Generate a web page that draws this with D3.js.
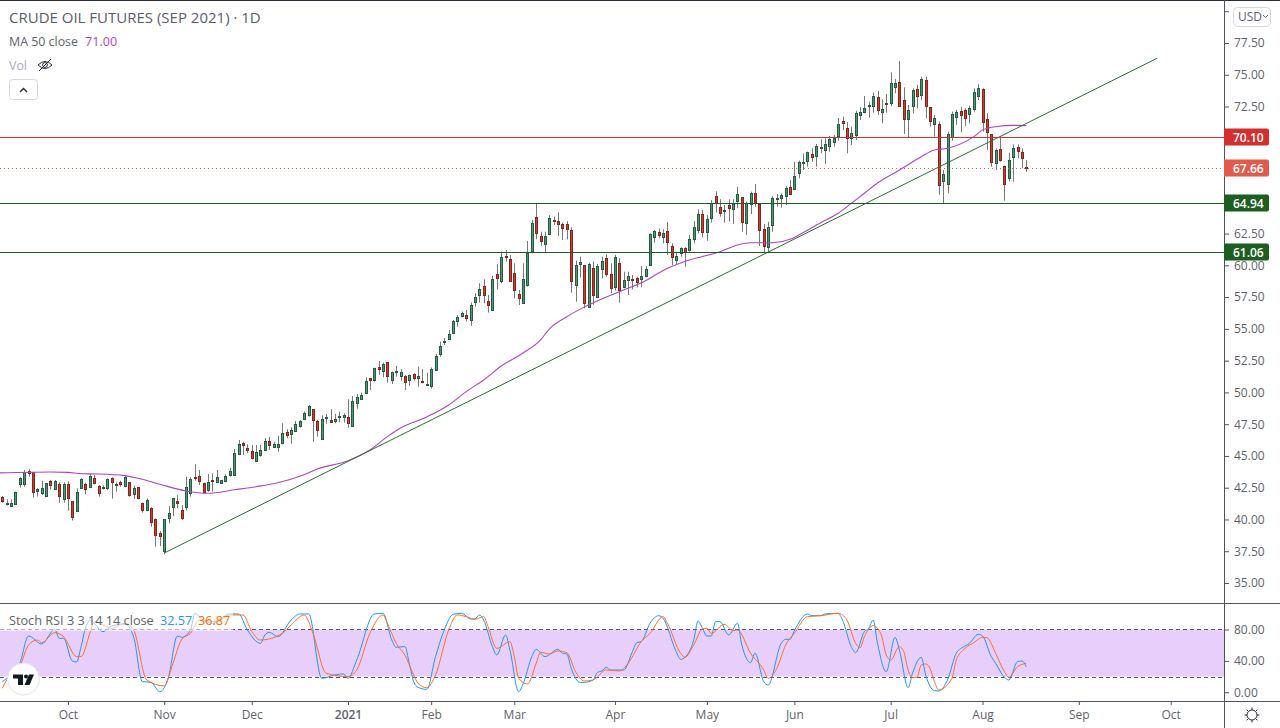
<!DOCTYPE html>
<html>
<head>
<meta charset="utf-8">
<script src="https://cdnjs.cloudflare.com/ajax/libs/d3/7.8.5/d3.min.js"></script>
<style>
  body { margin: 0; background: #fff; }
  svg { display: block; font-family: "Open Sans", sans-serif; }
</style>
</head>
<body>
<svg id="chart" width="1280" height="728"></svg>
<script>
// OHLC per trading day
const opens = [
  41.74,41.25,41.01,41.19,42.74,42.74,43.79,43.71,42.19,42.03,
  41.80,43.00,42.42,42.77,41.56,42.77,41.43,40.62,42.42,42.82,
  42.53,43.24,42.61,42.48,42.48,43.24,42.82,42.95,42.66,42.92,
  41.95,42.53,41.27,40.72,40.88,40.01,38.91,37.47,40.06,40.93,
  41.45,40.72,40.93,42.03,43.32,43.40,42.85,42.27,43.08,42.90,
  42.82,42.98,43.45,43.45,45.13,45.99,45.60,45.36,44.60,45.10,
  45.47,46.18,45.73,45.73,45.97,46.86,46.68,46.91,47.30,47.86,
  48.17,48.67,47.73,46.36,47.93,47.83,47.80,48.09,48.04,48.04,
  47.33,49.11,49.46,49.93,51.11,50.92,52.00,51.66,52.37,50.92,
  51.61,51.32,51.32,50.92,51.42,51.16,50.87,50.61,50.45,51.71,
  53.05,54.00,54.20,54.68,55.62,55.96,56.09,55.65,57.14,57.67,
  58.38,57.17,56.51,59.32,58.80,60.74,60.47,59.37,57.75,57.07,
  58.48,61.16,63.78,62.31,61.68,62.42,63.54,63.47,63.26,63.23,
  62.76,58.48,60.13,60.00,56.70,59.77,57.48,59.71,60.58,59.32,
  58.27,60.16,58.32,58.80,58.93,58.98,58.87,59.11,60.03,62.18,
  62.60,62.26,62.68,61.50,60.45,60.95,61.34,61.16,62.08,62.78,
  64.02,62.57,63.68,65.43,64.57,64.31,64.73,64.49,65.01,65.35,
  63.28,64.80,65.67,64.83,62.84,61.39,63.18,65.17,65.25,65.41,
  66.14,65.96,67.22,68.08,68.16,68.76,68.55,69.24,69.08,69.34,
  69.66,70.13,71.36,70.78,69.97,70.20,71.86,72.02,72.49,72.57,
  73.22,72.02,72.73,72.73,73.98,74.41,72.99,71.47,72.49,73.88,
  73.43,74.59,72.44,71.15,71.10,66.59,66.40,70.10,71.62,72.15,
  72.23,71.89,72.33,73.36,73.85,71.49,70.31,68.00,69.13,67.85,
  66.82,68.48,69.34,68.90,67.74
];
const highs = [
  41.85,41.59,41.59,42.19,43.32,43.89,43.95,43.76,42.45,43.03,
  42.87,43.11,43.11,42.92,42.92,43.00,41.45,42.45,43.24,42.90,
  43.58,43.50,42.71,42.69,43.24,43.32,42.90,43.05,43.45,42.95,
  42.66,42.53,41.32,41.66,40.96,40.09,39.09,40.04,41.06,41.66,
  41.93,41.14,43.37,43.32,44.37,43.89,42.90,43.58,43.63,43.89,
  43.11,43.55,44.08,45.55,46.26,46.12,45.91,45.86,45.86,45.86,
  46.40,46.50,46.12,46.60,47.57,47.10,47.25,47.75,47.83,48.49,
  49.01,48.67,47.83,48.20,48.30,48.69,48.30,48.49,48.35,49.46,
  49.72,49.88,49.98,51.19,51.11,51.95,52.47,52.34,52.39,51.63,
  52.08,51.82,51.37,51.42,51.50,52.03,51.84,51.55,51.97,53.02,
  53.99,54.28,54.91,55.70,56.09,56.36,56.49,57.07,57.80,58.59,
  58.90,57.67,59.16,60.08,61.08,61.21,60.82,60.16,58.06,60.16,
  61.92,63.57,64.88,62.65,62.65,63.96,63.83,64.17,63.36,63.49,
  62.99,60.37,60.68,60.03,60.21,60.29,60.11,60.68,60.87,60.16,
  60.82,60.55,59.50,59.50,59.24,59.11,59.95,59.95,62.52,62.78,
  62.91,62.84,63.39,61.73,61.08,61.42,61.42,62.39,63.49,64.41,
  64.36,63.96,65.14,65.83,65.20,64.75,65.20,65.20,66.19,65.35,
  65.01,65.80,66.40,64.88,63.26,63.44,65.46,65.62,65.67,66.25,
  66.72,68.16,68.24,68.82,68.95,69.21,69.55,69.92,70.00,70.18,
  70.26,71.60,71.70,71.28,70.91,72.17,72.44,73.33,72.88,73.62,
  73.72,73.07,73.49,75.19,74.67,76.08,74.01,72.62,73.93,74.20,
  74.85,74.85,72.44,71.83,71.31,67.51,70.52,72.10,72.23,72.49,
  72.36,72.57,73.93,74.25,73.93,71.97,70.31,69.21,70.18,67.85,
  68.87,69.53,69.53,69.21,68.29
];
const lows = [
  41.32,41.09,41.01,41.17,42.50,42.58,43.37,41.72,41.80,41.93,
  41.80,42.37,42.40,41.32,41.32,40.69,39.91,40.62,42.40,41.98,
  42.50,42.77,41.80,42.35,42.32,41.64,42.19,42.58,42.53,41.80,
  41.61,41.59,40.54,40.69,39.44,37.86,37.91,37.26,39.70,40.27,
  40.88,39.96,40.69,41.80,43.05,42.71,42.06,42.19,42.19,42.85,
  42.79,42.92,43.37,43.45,45.07,45.07,45.21,44.73,44.55,44.94,
  45.39,45.47,45.68,45.34,45.91,46.39,45.97,46.91,47.23,47.83,
  48.09,46.12,46.52,46.26,47.52,47.62,47.57,47.65,47.62,47.23,
  47.30,48.72,49.40,49.88,50.19,50.85,51.37,51.19,50.77,50.66,
  51.24,50.92,50.19,50.53,50.92,50.45,50.71,50.58,50.30,51.71,
  52.81,53.73,54.13,54.68,55.18,55.91,55.57,55.23,56.75,57.07,
  57.01,56.28,56.51,58.11,58.59,60.29,58.77,57.41,56.88,57.01,
  58.32,60.95,62.05,61.55,61.03,62.39,63.18,62.31,62.00,62.05,
  57.85,57.14,59.03,56.62,56.67,56.88,57.41,58.98,59.11,57.80,
  58.01,57.07,58.19,57.67,58.11,58.27,58.27,59.06,59.95,61.79,
  62.13,61.73,60.82,60.03,60.03,60.68,59.90,61.08,61.73,62.52,
  62.21,61.94,63.36,64.15,63.83,63.36,63.44,63.26,64.49,62.65,
  62.39,64.04,64.62,61.52,61.03,61.03,62.65,64.62,64.54,64.75,
  65.54,65.93,66.85,67.51,67.77,68.16,67.77,68.82,67.98,68.95,
  69.34,69.81,70.65,68.82,69.47,69.87,71.44,71.96,71.62,72.02,
  71.83,71.18,72.02,72.54,73.54,72.49,70.34,70.08,71.96,72.36,
  73.01,71.57,70.92,70.13,65.54,64.88,65.67,69.82,71.05,70.47,
  70.97,71.18,72.10,73.01,70.52,69.08,67.77,67.51,68.16,65.09,
  66.59,66.59,68.42,67.64,67.37
];
const closes = [
  41.40,41.30,41.27,42.14,43.24,43.71,43.60,42.11,42.37,42.45,
  42.85,42.66,43.03,41.80,42.77,41.64,40.14,42.14,43.16,42.42,
  43.42,42.82,42.03,42.58,43.16,42.90,42.74,42.82,43.34,41.87,
  42.45,41.64,40.69,41.51,39.75,38.73,38.70,40.01,40.48,41.66,
  41.32,40.06,42.53,43.16,43.24,42.98,42.11,42.92,42.98,43.32,
  43.08,43.40,43.79,45.21,45.94,45.81,45.47,44.79,45.28,45.47,
  46.18,45.89,45.94,45.94,46.78,46.60,47.02,47.49,47.73,48.35,
  48.90,47.78,46.99,47.93,48.04,47.65,47.93,48.14,48.20,47.57,
  49.30,49.61,49.77,50.87,50.92,51.89,51.87,52.21,51.24,51.58,
  51.69,51.63,50.85,51.34,51.08,51.29,50.77,50.66,51.82,52.84,
  53.65,54.05,54.60,55.62,55.94,56.23,55.86,56.85,57.54,58.14,
  57.69,56.88,58.93,59.01,60.66,60.66,58.77,58.06,57.43,58.93,
  61.00,63.33,62.52,61.94,62.31,63.70,63.44,63.26,62.94,62.81,
  58.72,60.03,60.27,56.99,60.08,57.62,59.95,60.34,59.35,58.19,
  60.66,58.01,58.85,59.14,58.85,58.64,59.14,59.69,62.44,62.68,
  62.34,62.55,61.79,60.61,60.74,61.34,61.05,62.05,62.99,64.02,
  62.57,63.62,64.88,64.86,64.07,64.36,64.46,64.86,65.59,63.36,
  64.88,65.67,64.93,62.81,61.47,62.99,65.28,65.28,65.51,66.06,
  65.56,67.01,68.11,68.14,68.90,68.55,69.37,69.32,69.53,69.92,
  70.00,71.10,71.23,70.00,70.39,71.97,72.07,72.36,72.59,73.33,
  72.18,72.28,72.78,74.33,74.33,72.49,71.47,72.20,73.78,73.36,
  74.67,72.57,71.31,71.60,66.27,67.17,70.31,71.91,72.04,71.86,
  71.62,72.36,73.64,73.96,71.23,70.50,68.11,69.06,68.24,66.43,
  68.27,69.21,69.03,68.40,67.66
];

// MA 50, read at the bends of the line
const maIndex = [-1,11,15,18,22,28,32,36,42,47,53,58,63,68,72,79,84,88,91,97,102,106,110,114,119,123,125,129,133,141,146,152,157,164,168,171,176,180,182,187,191,194,197,200,205,210,213,216,222,224,227,231,234];
const maValues = [43.66,43.74,43.71,43.60,43.58,43.45,43.16,42.77,42.24,42.06,42.34,42.58,42.89,43.40,43.97,44.63,45.47,46.52,47.20,48.07,49.01,50.06,50.98,52.08,53.10,54.13,54.99,55.96,56.72,57.93,58.61,59.77,60.42,61.07,61.60,61.78,61.78,62.05,62.39,63.36,64.10,64.88,65.67,66.48,67.50,68.55,69.08,69.21,70.13,70.65,70.91,71.02,71.00];

// Stoch RSI %K
const kIndex = [0,1,4,6,9,12,13,14,16,17,18,19,20,23,25,28,30,32,34,36,38,40,41,43,44,46,48,52,54,56,59,60,61,63,66,68,70,73,76,78,79,81,85,87,89,90,92,93,94,95,97,99,101,103,105,107,108,109,110,112,113,115,116,118,119,121,122,124,127,128,129,130,132,133,135,136,137,138,139,141,142,144,145,146,148,150,151,154,155,156,158,159,160,161,162,163,164,166,168,169,171,172,174,175,178,179,180,181,184,185,187,188,191,192,194,195,197,198,199,200,202,204,205,207,208,210,211,213,214,216,218,220,221,223,224,226,227,229,230,232,233,234];
const kValues = [13.6,17.8,36.9,71.7,61.6,80.2,68.8,68.8,39.9,38.6,58.2,81.5,92.1,77.3,84.5,87.0,70.9,13.6,12.7,0.8,19.9,71.7,70.0,79.4,100.6,91.3,87.9,99.8,99.8,79.4,62.4,73.0,76.4,70.9,92.1,99.8,99.8,17.8,22.1,23.3,17.8,41.2,99.8,100.6,66.6,57.3,58.2,36.9,13.6,6.4,3.8,45.4,79.4,99.3,100.6,93.4,93.4,98.5,92.1,58.2,47.5,73.0,53.9,0.8,10.6,45.4,54.8,45.4,54.8,49.7,48.8,30.6,12.7,12.7,15.7,25.5,27.2,31.8,28.4,28.4,28.4,51.8,63.3,64.5,87.9,97.6,94.2,51.8,42.0,44.6,66.6,90.9,81.5,71.7,71.7,90.0,90.0,73.0,87.9,60.3,37.8,49.7,13.6,9.3,62.4,67.5,67.5,78.5,99.8,97.6,97.6,99.8,100.6,92.1,58.2,50.5,77.3,81.5,92.1,62.4,26.3,70.0,53.9,5.9,24.2,44.6,22.1,2.1,1.7,15.7,49.7,59.0,62.4,73.9,71.7,45.4,36.9,19.1,15.7,39.0,39.9,32.57];

// Stoch RSI %D
const dIndex = [0,1,4,6,8,9,12,14,17,18,20,21,25,28,30,33,37,39,41,43,45,49,52,55,57,59,64,66,69,71,74,79,81,84,87,88,90,92,94,95,97,99,102,104,106,108,110,111,113,116,117,118,120,122,123,125,127,129,131,133,135,138,141,143,146,148,151,152,155,156,158,160,161,162,165,167,168,171,174,175,177,179,181,184,187,191,193,195,196,197,199,200,201,202,203,205,206,207,208,209,210,211,212,213,214,217,218,220,222,224,225,227,229,230,232,234];
const dValues = [5.1,15.7,32.7,60.3,66.6,63.3,76.0,70.9,45.4,45.4,75.1,90.0,81.5,87.9,79.4,15.7,8.1,36.9,67.5,75.1,92.1,90.0,98.5,98.5,77.3,66.6,75.1,85.8,98.5,75.1,24.2,19.9,28.4,75.1,98.5,87.9,62.4,47.5,22.1,11.5,5.9,22.1,79.4,98.5,96.4,93.0,96.4,83.6,56.0,64.5,45.4,17.8,10.6,36.9,50.9,48.8,52.6,50.5,26.3,14.4,15.7,28.4,27.2,36.9,64.5,75.1,96.4,87.9,49.7,44.6,60.3,80.7,81.5,75.1,86.6,78.5,79.4,49.7,28.4,17.8,30.6,60.3,75.1,96.4,97.6,100.6,92.1,62.4,56.9,70.9,84.9,81.5,70.9,47.5,41.2,58.2,51.8,28.4,18.7,19.1,34.8,36.1,30.6,13.6,3.0,17.8,41.2,56.0,63.3,70.0,69.6,49.7,26.3,19.1,32.7,36.87];

// drawn lines
const trendIndex = [37, 263.9];
const trendPrice = [37.36, 76.3];
const redLevel = 70.10;
const greenLevels = [64.94, 61.06];
const lastClose = 67.66;

// axes
const priceTicks = [80,77.5,75,72.5,70,67.5,65,62.5,60,57.5,55,52.5,50,47.5,45,42.5,40,37.5,35];
const hiddenPriceLabels = [80, 70, 67.5, 65];
const stochTicks = [80, 40, 0];
const monthIndex = [15,37,57,79,98,117,140,161,181,203,224,246,267];
const monthLabels = ["Oct","Nov","Dec","2021","Feb","Mar","Apr","May","Jun","Jul","Aug","Sep","Oct"];

const colors = {
  upFill: "#479a72", upLine: "#265a42",
  downFill: "#d03a2e", downLine: "#84261c",
  wick: "#787878",
  red: "#d32f2f", close: "#e25a4b", green: "#1b5e20", trend: "#2f6b35",
  ma: "#ab47bc", band: "#e8cffb", k: "#2196f3", d: "#ff6d2a",
  axis: "#50535e", text: "#5f626c"
};

const W = 1280, axisX = 1224, paneBottom = 603, timeY = 701;
const svg = d3.select("#chart");

const x = d3.scaleLinear().domain([0, 234]).range([2.3, 1026.3]);
const y = d3.scaleLinear().domain([77.5, 35]).range([43, 583]);
const yStoch = d3.scaleLinear().domain([100, 0]).range([613.8, 692.3]);
const px = (i) => Math.round(x(i)) + 0.5;

svg.append("clipPath").attr("id", "mainClip").append("rect")
  .attr("width", axisX).attr("height", paneBottom);
svg.append("clipPath").attr("id", "stochClip").append("rect")
  .attr("y", paneBottom).attr("width", axisX).attr("height", timeY - paneBottom);

const main = svg.append("g").attr("clip-path", "url(#mainClip)");

// Candles: wick then body
const bars = d3.range(opens.length);
main.selectAll(".wick").data(bars).enter().append("line")
  .attr("class", "wick")
  .attr("x1", px).attr("x2", px)
  .attr("y1", (i) => y(highs[i])).attr("y2", (i) => y(lows[i]))
  .attr("stroke", colors.wick);

main.selectAll(".body").data(bars).enter().append("rect")
  .attr("class", "body")
  .attr("x", (i) => px(i) - 1)
  .attr("width", 2)
  .attr("y", (i) => Math.round(y(Math.max(opens[i], closes[i]))) + 0.5)
  .attr("height", (i) => Math.max(1, Math.round(Math.abs(y(opens[i]) - y(closes[i])))))
  .attr("fill", (i) => (closes[i] >= opens[i] ? colors.upFill : colors.downFill))
  .attr("stroke", (i) => (closes[i] >= opens[i] ? colors.upLine : colors.downLine));

// MA 50
main.append("path")
  .attr("d", d3.line().x((d, k) => x(maIndex[k])).y((d) => y(d)).curve(d3.curveMonotoneX)(maValues))
  .attr("fill", "none")
  .attr("stroke", colors.ma)
  .attr("stroke-width", 1.1);

// Trend line
main.append("line")
  .attr("x1", x(trendIndex[0])).attr("y1", y(trendPrice[0]))
  .attr("x2", x(trendIndex[1])).attr("y2", y(trendPrice[1]))
  .attr("stroke", colors.trend).attr("stroke-width", 1);

// Horizontal levels
const hLevel = (value, color, dash) => {
  const yy = Math.round(y(value)) + 0.5;
  main.append("line")
    .attr("x1", 0).attr("x2", axisX).attr("y1", yy).attr("y2", yy)
    .attr("stroke", color).attr("stroke-dasharray", dash || null);
};
hLevel(redLevel, colors.red);
hLevel(lastClose, colors.close, "1 3");
greenLevels.forEach((v) => hLevel(v, colors.green));

// Stoch pane
const stoch = svg.append("g").attr("clip-path", "url(#stochClip)");
stoch.append("rect")
  .attr("x", 0).attr("width", axisX)
  .attr("y", yStoch(80)).attr("height", yStoch(20) - yStoch(80))
  .attr("fill", colors.band);
[80, 20].forEach((v) => {
  const yy = Math.round(yStoch(v)) + 0.5;
  stoch.append("line")
    .attr("x1", 0).attr("x2", axisX).attr("y1", yy).attr("y2", yy)
    .attr("stroke", "#55585f").attr("stroke-dasharray", "4 3");
});
const stochLine = (idx, vals, color) => {
  stoch.append("path")
    .attr("d", d3.line().x((d, k) => x(idx[k])).y((d) => yStoch(d)).curve(d3.curveMonotoneX)(vals))
    .attr("fill", "none")
    .attr("stroke", color)
    .attr("stroke-width", 1);
};
stochLine(kIndex, kValues, colors.k);
stochLine(dIndex, dValues, colors.d);

// Frame lines
[0.5, paneBottom + 0.5, timeY + 0.5].forEach((yy, k) => {
  svg.append("line")
    .attr("x1", 0).attr("x2", W).attr("y1", yy).attr("y2", yy)
    .attr("stroke", k === 0 ? "#2a2e39" : colors.axis);
});

// Price axis
const styleAxis = (g) => {
  g.select(".domain").attr("stroke", colors.axis);
  g.selectAll(".tick line").attr("stroke", colors.axis);
  g.selectAll(".tick text")
    .attr("fill", colors.text)
    .style("font-family", '"Open Sans", sans-serif')
    .style("font-size", "12px");
};
svg.append("g")
  .attr("transform", `translate(${axisX},0)`)
  .call(d3.axisRight(y).tickValues(priceTicks).tickSize(5).tickPadding(5)
    .tickFormat((d) => (hiddenPriceLabels.includes(d) ? "" : d3.format(".2f")(d))))
  .call(styleAxis)
  .select(".domain").remove();

svg.append("g")
  .attr("transform", `translate(${axisX},0)`)
  .call(d3.axisRight(yStoch).tickValues(stochTicks).tickSize(5).tickPadding(5)
    .tickFormat(d3.format(".2f")))
  .call(styleAxis)
  .select(".domain").remove();

svg.append("line")
  .attr("x1", axisX + 0.5).attr("x2", axisX + 0.5).attr("y1", 0).attr("y2", 728)
  .attr("stroke", colors.axis);

// Time axis
const timeAxis = svg.append("g")
  .attr("transform", `translate(0,${timeY})`)
  .call(d3.axisBottom(x).tickValues(monthIndex).tickSize(4).tickPadding(5)
    .tickFormat((d, k) => monthLabels[k]))
  .call(styleAxis);
timeAxis.select(".domain").remove();
timeAxis.selectAll(".tick text")
  .filter((d, k) => monthLabels[k] === "2021")
  .style("font-weight", 600);

// Price labels on the axis
const priceLabel = (value, color) => {
  const yy = Math.round(y(value));
  const g = svg.append("g");
  g.append("path")
    .attr("d", `M${axisX},${yy - 8.5}h43a2,2 0 0 1 2,2v13a2,2 0 0 1 -2,2h-43z`)
    .attr("fill", color);
  g.append("text")
    .attr("x", axisX + 9).attr("y", yy + 4.5)
    .attr("fill", "#fff")
    .style("font-size", "12px").style("font-weight", 600)
    .text(d3.format(".2f")(value));
};
priceLabel(redLevel, colors.red);
priceLabel(lastClose, colors.close);
greenLevels.forEach((v) => priceLabel(v, colors.green));

// Currency button
svg.append("rect")
  .attr("x", 1233.5).attr("y", 7.5).attr("width", 37).attr("height", 19).attr("rx", 4)
  .attr("fill", "#fff").attr("stroke", "#d6d8e0");
svg.append("text").attr("x", 1238).attr("y", 21)
  .attr("fill", colors.text).style("font-size", "12px").text("USD");
svg.append("path").attr("d", "M1263,15l2.5,2.5l2.5,-2.5")
  .attr("fill", "none").attr("stroke", colors.text);

// Legends, top pane
const legendText = (xx, yy, text, color, size) =>
  svg.append("text").attr("x", xx).attr("y", yy).attr("fill", color)
    .style("font-size", size + "px").text(text);

legendText(9, 23, "CRUDE OIL FUTURES (SEP 2021) · 1D", "#5a5d66", 15);
legendText(9, 46, "MA 50 close", "#5f626c", 12.4);
legendText(85, 46, "71.00", colors.ma, 12.6);
legendText(9, 70, "Vol", "#a9abb5", 12.4);

// Hidden volume eye
const eye = svg.append("g").attr("fill", "none").attr("stroke", "#2a2e39");
eye.append("path").attr("d", "M38,65q7,-7 14,0q-7,7 -14,0z");
eye.append("circle").attr("cx", 45).attr("cy", 65).attr("r", 2.4);
eye.append("line").attr("x1", 39).attr("y1", 71).attr("x2", 51).attr("y2", 59);

// Collapse button
svg.append("rect")
  .attr("x", 9.5).attr("y", 79.5).attr("width", 28).attr("height", 20).attr("rx", 3)
  .attr("fill", "#fff").attr("stroke", "#d6d8e0");
svg.append("path").attr("d", "M20,92l3.5,-3.5l3.5,3.5")
  .attr("fill", "none").attr("stroke", "#2a2e39").attr("stroke-width", 1.4);

// Legend, stoch pane, sits on a soft white plate
svg.append("rect")
  .attr("x", 0).attr("y", 612).attr("width", 233).attr("height", 19)
  .attr("fill", "#fff").attr("opacity", 0.55);
legendText(9, 625, "Stoch RSI 3 3 14 14 close", "#5f626c", 12.7);
legendText(160, 625, "32.57", colors.k, 12.7);
legendText(198, 625, "36.87", "#ff6d00", 12.7);

// Logo badge
svg.append("circle")
  .attr("cx", 23.5).attr("cy", 679).attr("r", 16)
  .attr("fill", "#fff").attr("stroke", "#e3e3e6");
const logo = svg.append("g").attr("fill", "#131722");
logo.append("path").attr("d", "M13,674.5h10v10.5h-5v-6.5h-5z");
logo.append("circle").attr("cx", 26).attr("cy", 676.5).attr("r", 2);
logo.append("path").attr("d", "M29,674.5h5l-4.5,10.5h-5z");

// Settings icon
const gear = svg.append("g").attr("transform", "translate(1252,715)")
  .attr("fill", "none").attr("stroke", "#2a2e39");
gear.append("circle").attr("r", 5);
d3.range(8).forEach((k) => {
  const a = (k * Math.PI) / 4;
  gear.append("line")
    .attr("x1", 5 * Math.cos(a)).attr("y1", 5 * Math.sin(a))
    .attr("x2", 7.5 * Math.cos(a)).attr("y2", 7.5 * Math.sin(a));
});
</script>
</body>
</html>
